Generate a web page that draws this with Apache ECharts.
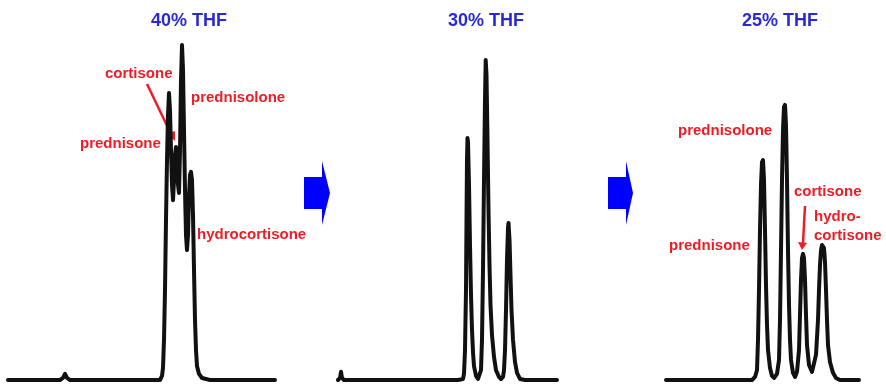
<!DOCTYPE html>
<html>
<head>
<meta charset="utf-8">
<script src="https://cdn.jsdelivr.net/npm/echarts/dist/echarts.min.js"></script>
<style>
  html, body { margin: 0; padding: 0; background: #fff; }
  #chart { width: 886px; height: 385px; }
</style>
</head>
<body>
<div id="chart"></div>
<script>
// panel titles (mobile phase)
var panelTitles = ['40% THF', '30% THF', '25% THF'];

// 40% THF trace: time (min), signal
var thf40Time = [0, 5.2, 5.5, 5.7, 5.9, 6.2, 15.2, 15.4, 15.5, 15.6, 15.7, 15.8, 15.9, 16.0, 16.1, 16.2, 16.3, 16.4, 16.5, 16.6, 16.7, 16.8, 16.9, 17.0, 17.1, 17.2, 17.3, 17.4, 17.5, 17.6, 17.7, 17.8, 17.9, 18.0, 18.1, 18.2, 18.3, 18.4, 18.5, 18.6, 18.7, 18.8, 18.9, 19.1, 19.4, 20.2, 26.7];
var thf40Signal = [0, 0, 0.6, 1.8, 0.6, 0, 0, 1.2, 3.5, 11.8, 26.5, 47.1, 64.7, 77.9, 84.4, 79.4, 67.6, 57.4, 52.9, 58.8, 66.2, 68.5, 64.7, 57.4, 55.0, 67.6, 88.2, 98.5, 91.2, 73.5, 55.9, 42.6, 38.2, 42.6, 54.4, 60.3, 61.2, 58.8, 48.5, 32.4, 17.6, 8.8, 4.1, 1.8, 0.6, 0, 0];

// 30% THF trace
var thf30Time = [0, 0.2, 0.3, 0.4, 0.6, 12.0, 12.5, 12.6, 12.7, 12.8, 12.85, 12.9, 12.95, 13.0, 13.1, 13.2, 13.3, 13.4, 13.5, 13.6, 13.8, 14.0, 14.2, 14.3, 14.4, 14.5, 14.6, 14.7, 14.77, 14.85, 14.95, 15.05, 15.15, 15.25, 15.4, 15.6, 15.8, 16.1, 16.3, 16.5, 16.6, 16.7, 16.8, 16.9, 17.0, 17.05, 17.15, 17.25, 17.35, 17.5, 17.7, 17.9, 18.2, 18.7, 21.9];
var thf30Signal = [0, 0.6, 2.4, 0.6, 0, 0, 0.3, 1.8, 8.8, 26.5, 47.1, 64.7, 71.2, 70.0, 57.4, 39.7, 25.0, 14.7, 8.2, 4.1, 1.2, 0.3, 0.6, 2.9, 11.8, 32.4, 58.8, 82.4, 94.1, 89.7, 70.6, 50.0, 33.8, 22.1, 13.2, 6.8, 2.9, 0.9, 0.3, 0.9, 2.9, 8.8, 20.6, 35.3, 44.7, 46.2, 41.2, 30.9, 20.6, 11.8, 5.3, 2.1, 0.3, 0, 0];

// 25% THF trace
var thf25Time = [0, 8.6, 8.9, 9.1, 9.2, 9.3, 9.4, 9.5, 9.6, 9.7, 9.8, 9.9, 10.0, 10.1, 10.2, 10.4, 10.6, 10.8, 11.1, 11.3, 11.4, 11.5, 11.6, 11.7, 11.8, 11.9, 12.0, 12.1, 12.2, 12.3, 12.4, 12.5, 12.7, 12.9, 13.1, 13.3, 13.4, 13.5, 13.6, 13.7, 13.8, 13.9, 14.0, 14.1, 14.3, 14.6, 14.8, 15.0, 15.2, 15.3, 15.4, 15.5, 15.6, 15.7, 15.8, 15.9, 16.0, 16.1, 16.2, 16.4, 16.7, 17.0, 17.4, 19.3];
var thf25Signal = [0, 0, 0.9, 2.9, 11.8, 26.5, 44.1, 57.4, 64.1, 64.7, 58.8, 44.1, 27.9, 16.2, 8.8, 3.5, 1.2, 0.6, 1.8, 5.9, 17.6, 38.2, 58.8, 73.5, 80.3, 80.9, 75.0, 58.8, 38.2, 22.1, 11.8, 5.9, 2.1, 0.9, 2.4, 8.8, 19.1, 29.4, 35.9, 37.1, 35.9, 29.4, 19.1, 10.3, 4.4, 2.4, 2.9, 7.4, 17.6, 26.5, 33.8, 38.2, 39.7, 40.0, 38.8, 34.7, 26.5, 17.6, 10.3, 5.3, 2.1, 0.6, 0, 0];

var panels = [
    { time: thf40Time, signal: thf40Signal, left: 8, width: 267, tmax: 26.7 },
    { time: thf30Time, signal: thf30Signal, left: 338, width: 219, tmax: 21.9 },
    { time: thf25Time, signal: thf25Signal, left: 666, width: 193, tmax: 19.3 }
];

var RED = '#ee1c25';
var BLUE_TEXT = '#2a2ad2';
var FONT = '"Liberation Sans", Arial, sans-serif';

function zip (t, s) {
    return t.map(function (x, i) { return [x, s[i]]; });
}

function redText (txt, x, y) {
    return {
        type: 'text', left: x, top: y - 12,
        style: { text: txt, fill: RED, font: 'bold 15px ' + FONT, textVerticalAlign: 'top' }
    };
}

var chart = echarts.init(document.getElementById('chart'), null, { renderer: 'canvas' });

var option = {
    animation: false,
    backgroundColor: '#fff',
    title: panelTitles.map(function (t, i) {
        var cx = [184, 481, 775][i];
        return {
            text: t, left: cx, top: 7, textAlign: 'center',
            textStyle: { color: BLUE_TEXT, fontSize: 18, fontWeight: 'bold', fontFamily: FONT }
        };
    }),
    grid: panels.map(function (p) {
        return { left: p.left, width: p.width, top: 40, height: 340 };
    }),
    xAxis: panels.map(function (p, i) {
        return { type: 'value', gridIndex: i, min: 0, max: p.tmax, show: false };
    }),
    yAxis: panels.map(function (p, i) {
        return { type: 'value', gridIndex: i, min: 0, max: 100, show: false };
    }),
    series: panels.map(function (p, i) {
        return {
            type: 'line', xAxisIndex: i, yAxisIndex: i,
            data: zip(p.time, p.signal),
            symbol: 'none', clip: false,
            lineStyle: { color: '#111', width: 4, join: 'round', cap: 'round' }
        };
    }),
    graphic: [
        // blue arrows between panels
        { type: 'polygon', shape: { points: [[304, 177], [322, 177], [322, 161], [330, 193], [322, 225], [322, 209], [304, 209]] }, style: { fill: '#0000ff' } },
        { type: 'polygon', shape: { points: [[608, 177], [626, 177], [626, 161], [633, 193], [626, 225], [626, 209], [608, 209]] }, style: { fill: '#0000ff' } },

        // 40% THF labels
        redText('cortisone', 105, 78),
        redText('prednisolone', 191, 102),
        redText('prednisone', 80, 148),
        redText('hydrocortisone', 197, 239),
        { type: 'line', shape: { x1: 147, y1: 84, x2: 171, y2: 134 }, style: { stroke: RED, lineWidth: 2.5 } },
        { type: 'polygon', shape: { points: [[167, 134], [175, 141], [175, 131]] }, style: { fill: RED } },

        // 25% THF labels
        redText('prednisolone', 678, 135),
        redText('prednisone', 669, 250),
        redText('cortisone', 794, 196),
        redText('hydro-', 814, 221),
        redText('cortisone', 814, 240),
        { type: 'line', shape: { x1: 805, y1: 206, x2: 803, y2: 243 }, style: { stroke: RED, lineWidth: 2.5 } },
        { type: 'polygon', shape: { points: [[798, 242], [807, 243], [802, 250]] }, style: { fill: RED } }
    ]
};

chart.setOption(option);
</script>
</body>
</html>
